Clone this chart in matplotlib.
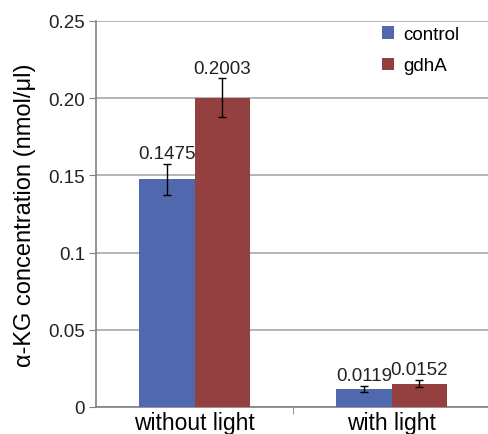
import matplotlib.pyplot as plt
import numpy as np

plt.rcParams['font.family'] = ['Liberation Sans', 'DejaVu Sans']

# datos
categories = ["without light", "with light"]
series = ["control", "gdhA"]
control = [0.1475, 0.0119]
gdhA = [0.2003, 0.0152]
control_err = [0.0100, 0.0020]
gdhA_err = [0.0125, 0.0025]
yticks = [0, 0.05, 0.1, 0.15, 0.20, 0.25]
ytick_labels = ["0", "0.05", "0.1", "0.15", "0.20", "0.25"]
colors = ["#5068AE", "#944040"]

fig = plt.figure(figsize=(4.88, 4.35), dpi=100)
ax = fig.add_axes([96 / 488, (435 - 408) / 435, 394 / 488, 386 / 435])

x = np.arange(len(categories))
w = 0.28
values = [control, gdhA]
errors = [control_err, gdhA_err]
for i, (name, vals, err) in enumerate(zip(series, values, errors)):
    pos = x + (i - 0.5) * w
    ax.bar(pos, vals, w, color=colors[i], label=name, zorder=3)
    ax.errorbar(pos, vals, yerr=err, fmt="none", ecolor="black",
                elinewidth=1, capsize=3, capthick=1, zorder=4)
    for p, v, e in zip(pos, vals, err):
        ax.text(p, v + e + 0.001, "{:.4f}".format(v), ha="center",
                va="bottom", fontsize=13.5, color="#222222")

ax.set_xlim(-0.5, 1.5)
ax.set_ylim(0, 0.25)
ax.set_yticks(yticks)
ax.set_yticklabels(ytick_labels)
ax.set_xticks(x)
ax.set_xticklabels(categories, fontsize=16.5)
ax.set_xticks([0.5], minor=True)
ax.tick_params(axis="x", which="major", length=0, pad=3)
ax.tick_params(axis="x", which="minor", length=5, color="#808080")
ax.tick_params(axis="y", length=5, color="#808080", labelsize=13.5,
               labelcolor="#222222", pad=3)
ax.yaxis.grid(True, color="#A8A8A8", linewidth=1.2, zorder=0)
for s in ["top", "right"]:
    ax.spines[s].set_visible(False)
ax.spines["left"].set_color("#808080")
ax.spines["bottom"].set_color("#808080")
ax.spines["left"].set_linewidth(1.2)
ax.spines["bottom"].set_linewidth(1.2)
ax.set_ylabel("α-KG concentration (nmol/μl)", fontsize=17, labelpad=9)
ax.legend(loc="upper left", bbox_to_anchor=(0.682, 1.03), frameon=False,
          fontsize=13.5, handlelength=0.65, handleheight=0.65,
          labelspacing=0.75, handletextpad=0.5)

plt.savefig("out.png", dpi=100)
